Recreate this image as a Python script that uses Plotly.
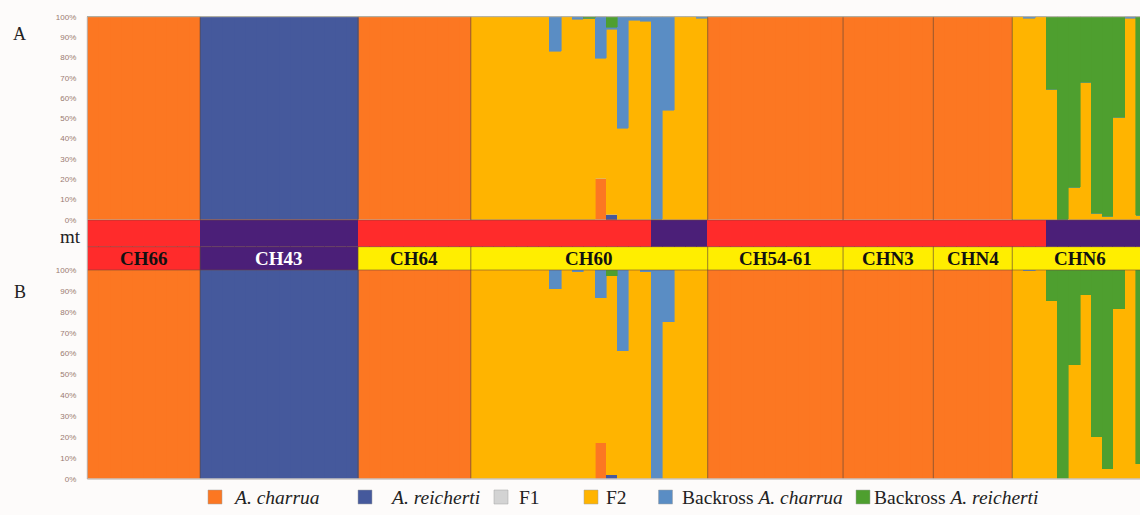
import plotly.graph_objects as go

FIG_W, FIG_H = 1140, 515

# ---------------------------------------------------------------- data
populations = ["CH66", "CH43", "CH64", "CH60", "CH54-61", "CHN3", "CHN4", "CHN6"]
pop_sizes = [10, 14, 10, 21, 12, 8, 7, 12]

# mitochondrial lineage of every individual (C = A. charrua, R = A. reicherti)
mt_lineage = list(
    "CCCCCCCCCC"              # CH66
    "RRRRRRRRRRRRRR"          # CH43
    "CCCCCCCCCC"              # CH64
    "CCCCCCCCCCCCCCCCRRRRR"   # CH60
    "CCCCCCCCCCCC"            # CH54-61
    "CCCCCCCC"                # CHN3
    "CCCCCCC"                 # CHN4
    "CCCRRRRRRRRR"            # CHN6
)

class_names = ["<i>A. charrua</i>", "<i>A. reicherti</i>", "F1", "F2",
               "Backross <i>A. charrua</i>", "Backross <i>A. reicherti</i>"]

pct_ticks = [0, 10, 20, 30, 40, 50, 60, 70, 80, 90, 100]
pct_labels = ["0%", "10%", "20%", "30%", "40%", "50%", "60%", "70%", "80%", "90%", "100%"]

# --- panel A: membership (%) per individual
a_charrua = [
    100, 100, 100, 100, 100, 100, 100, 100, 100, 100,
    0, 0, 0, 0, 0, 0, 0, 0, 0, 0, 0, 0, 0, 0,
    100, 100, 100, 100, 100, 100, 100, 100, 100, 100,
    0, 0, 0, 0, 0, 0, 0, 0, 0, 0, 0, 20.5, 0, 0, 0, 0, 0, 0, 0, 0, 0,
    100, 100, 100, 100, 100, 100, 100, 100, 100, 100, 100, 100,
    100, 100, 100, 100, 100, 100, 100, 100,
    100, 100, 100, 100, 100, 100, 100,
    0, 0, 0, 0, 0, 0, 0, 0, 0, 0, 0, 0,
]
a_reicherti = [
    0, 0, 0, 0, 0, 0, 0, 0, 0, 0,
    100, 100, 100, 100, 100, 100, 100, 100, 100, 100, 100, 100, 100, 100,
    0, 0, 0, 0, 0, 0, 0, 0, 0, 0,
    0, 0, 0, 0, 0, 0, 0, 0, 0, 0, 0, 0, 2.5, 0, 0, 0, 0, 0, 0, 0, 0,
    0, 0, 0, 0, 0, 0, 0, 0, 0, 0, 0, 0,
    0, 0, 0, 0, 0, 0, 0, 0,
    0, 0, 0, 0, 0, 0, 0,
    0, 0, 0, 0, 0, 0, 0, 0, 0, 0, 0, 0,
]
a_f1 = [
    0, 0, 0, 0, 0, 0, 0, 0, 0, 0,
    0, 0, 0, 0, 0, 0, 0, 0, 0, 0, 0, 0, 0, 0,
    0, 0, 0, 0, 0, 0, 0, 0, 0, 0,
    0, 0, 0, 0, 0, 0, 0, 0, 0, 0, 0, 0, 0, 0, 0, 0, 0, 0, 0, 0, 0,
    0, 0, 0, 0, 0, 0, 0, 0, 0, 0, 0, 0,
    0, 0, 0, 0, 0, 0, 0, 0,
    0, 0, 0, 0, 0, 0, 0,
    0, 0, 0, 0, 0, 0, 0, 0, 0, 0, 0, 0,
]
a_f2 = [
    0, 0, 0, 0, 0, 0, 0, 0, 0, 0,
    0, 0, 0, 0, 0, 0, 0, 0, 0, 0, 0, 0, 0, 0,
    0, 0, 0, 0, 0, 0, 0, 0, 0, 0,
    100, 100, 100, 100, 100, 100, 100, 82.8, 100, 98.4, 99.2,
    58.7, 91.0, 45.0, 98.0, 97.5, 0, 53.6, 100, 100, 99.2,
    0, 0, 0, 0, 0, 0, 0, 0, 0, 0, 0, 0,
    0, 0, 0, 0, 0, 0, 0, 0,
    0, 0, 0, 0, 0, 0, 0,
    100, 99, 100, 64, 0, 16, 67.5, 3.3, 1.5, 50.3, 99.2, 2,
]
a_bc_charrua = [
    0, 0, 0, 0, 0, 0, 0, 0, 0, 0,
    0, 0, 0, 0, 0, 0, 0, 0, 0, 0, 0, 0, 0, 0,
    0, 0, 0, 0, 0, 0, 0, 0, 0, 0,
    0, 0, 0, 0, 0, 0, 0, 17.2, 0, 1.6, 0,
    20.8, 1.0, 55.0, 2.0, 2.5, 100, 46.4, 0, 0, 0.8,
    0, 0, 0, 0, 0, 0, 0, 0, 0, 0, 0, 0,
    0, 0, 0, 0, 0, 0, 0, 0,
    0, 0, 0, 0, 0, 0, 0,
    0, 1, 0, 0, 0, 0, 0, 0, 0, 0, 0.8, 0,
]
a_bc_reicherti = [
    0, 0, 0, 0, 0, 0, 0, 0, 0, 0,
    0, 0, 0, 0, 0, 0, 0, 0, 0, 0, 0, 0, 0, 0,
    0, 0, 0, 0, 0, 0, 0, 0, 0, 0,
    0, 0, 0, 0, 0, 0, 0, 0, 0, 0, 0.8,
    0, 5.5, 0, 0, 0, 0, 0, 0, 0, 0,
    0, 0, 0, 0, 0, 0, 0, 0, 0, 0, 0, 0,
    0, 0, 0, 0, 0, 0, 0, 0,
    0, 0, 0, 0, 0, 0, 0,
    0, 0, 0, 36, 100, 84, 32.5, 96.7, 98.5, 49.7, 0, 98,
]

# --- panel B: membership (%) per individual
b_charrua = [
    100, 100, 100, 100, 100, 100, 100, 100, 100, 100,
    0, 0, 0, 0, 0, 0, 0, 0, 0, 0, 0, 0, 0, 0,
    100, 100, 100, 100, 100, 100, 100, 100, 100, 100,
    0, 0, 0, 0, 0, 0, 0, 0, 0, 0, 0, 17.4, 0, 0, 0, 0, 0, 0, 0, 0, 0,
    100, 100, 100, 100, 100, 100, 100, 100, 100, 100, 100, 100,
    100, 100, 100, 100, 100, 100, 100, 100,
    100, 100, 100, 100, 100, 100, 100,
    0, 0, 0, 0, 0, 0, 0, 0, 0, 0, 0, 0,
]
b_reicherti = [
    0, 0, 0, 0, 0, 0, 0, 0, 0, 0,
    100, 100, 100, 100, 100, 100, 100, 100, 100, 100, 100, 100, 100, 100,
    0, 0, 0, 0, 0, 0, 0, 0, 0, 0,
    0, 0, 0, 0, 0, 0, 0, 0, 0, 0, 0, 0, 2.0, 0, 0, 0, 0, 0, 0, 0, 0,
    0, 0, 0, 0, 0, 0, 0, 0, 0, 0, 0, 0,
    0, 0, 0, 0, 0, 0, 0, 0,
    0, 0, 0, 0, 0, 0, 0,
    0, 0, 0, 0, 0, 0, 0, 0, 0, 0, 0, 0,
]
b_f1 = [
    0, 0, 0, 0, 0, 0, 0, 0, 0, 0,
    0, 0, 0, 0, 0, 0, 0, 0, 0, 0, 0, 0, 0, 0,
    0, 0, 0, 0, 0, 0, 0, 0, 0, 0,
    0, 0, 0, 0, 0, 0, 0, 0, 0, 0, 0, 0, 0, 0, 0, 0, 0, 0, 0, 0, 0,
    0, 0, 0, 0, 0, 0, 0, 0, 0, 0, 0, 0,
    0, 0, 0, 0, 0, 0, 0, 0,
    0, 0, 0, 0, 0, 0, 0,
    0, 0, 0, 0, 0, 0, 0, 0, 0, 0, 0, 0,
]
b_f2 = [
    0, 0, 0, 0, 0, 0, 0, 0, 0, 0,
    0, 0, 0, 0, 0, 0, 0, 0, 0, 0, 0, 0, 0, 0,
    0, 0, 0, 0, 0, 0, 0, 0, 0, 0,
    100, 100, 100, 100, 100, 100, 100, 90.9, 100, 99.0, 100,
    69.0, 95.3, 61.4, 100, 99.0, 0, 75.3, 100, 100, 100,
    0, 0, 0, 0, 0, 0, 0, 0, 0, 0, 0, 0,
    0, 0, 0, 0, 0, 0, 0, 0,
    0, 0, 0, 0, 0, 0, 0,
    100, 99.5, 100, 85.3, 0, 54.4, 87.9, 20.1, 5.0, 81.2, 100, 7.3,
]
b_bc_charrua = [
    0, 0, 0, 0, 0, 0, 0, 0, 0, 0,
    0, 0, 0, 0, 0, 0, 0, 0, 0, 0, 0, 0, 0, 0,
    0, 0, 0, 0, 0, 0, 0, 0, 0, 0,
    0, 0, 0, 0, 0, 0, 0, 9.1, 0, 1.0, 0,
    13.6, 0, 38.6, 0, 1.0, 100, 24.7, 0, 0, 0,
    0, 0, 0, 0, 0, 0, 0, 0, 0, 0, 0, 0,
    0, 0, 0, 0, 0, 0, 0, 0,
    0, 0, 0, 0, 0, 0, 0,
    0, 0.5, 0, 0, 0, 0, 0, 0, 0, 0, 0, 0,
]
b_bc_reicherti = [
    0, 0, 0, 0, 0, 0, 0, 0, 0, 0,
    0, 0, 0, 0, 0, 0, 0, 0, 0, 0, 0, 0, 0, 0,
    0, 0, 0, 0, 0, 0, 0, 0, 0, 0,
    0, 0, 0, 0, 0, 0, 0, 0, 0, 0, 0,
    0, 2.7, 0, 0, 0, 0, 0, 0, 0, 0,
    0, 0, 0, 0, 0, 0, 0, 0, 0, 0, 0, 0,
    0, 0, 0, 0, 0, 0, 0, 0,
    0, 0, 0, 0, 0, 0, 0,
    0, 0, 0, 14.7, 100, 45.6, 12.1, 79.9, 95.0, 18.8, 0, 92.7,
]

# ---------------------------------------------------------------- styling
class_colors = ["#FC7722", "#45599C", "#D3D3D3", "#FFB400", "#5A8DC4", "#4E9F2F"]
mt_colors = {"C": "#FF2B2B", "R": "#4B1F78"}
pop_fill = ["#FF2B2B", "#4B1F78", "#FFEE00", "#FFEE00",
            "#FFEE00", "#FFEE00", "#FFEE00", "#FFEE00"]
pop_text = ["#111111", "#FFFFFF", "#111111", "#111111",
            "#111111", "#111111", "#111111", "#111111"]
SERIF = "Liberation Serif, Times New Roman, serif"
TICK_COLOR = "#9A7A70"
FRAME = "#B8B0AA"
SEP = "rgba(95,70,55,0.65)"

# vertical layout (pixels from the top of the figure)
A_TOP, A_BOT = 16.7, 220.0
MT_BOT = 246.7
B_TOP, B_BOT = 270.0, 479.0
PLOT_LEFT = 87.3
BAR_PX = 11.28


def fx(px):
    return px / FIG_W


def fy(py):
    return 1 - py / FIG_H


n_ind = len(mt_lineage)
idx = list(range(n_ind))
x_end = -0.5 + (FIG_W - PLOT_LEFT) / BAR_PX

fig = go.Figure()

panel_a = [a_charrua, a_reicherti, a_f1, a_f2, a_bc_charrua, a_bc_reicherti]
panel_b = [b_charrua, b_reicherti, b_f1, b_f2, b_bc_charrua, b_bc_reicherti]

for axis, series in (("y4", panel_a), ("y", panel_b)):
    for name, vals, col in zip(class_names, series, class_colors):
        fig.add_trace(go.Bar(
            x=idx, y=vals, name=name, yaxis=axis, width=1,
            marker=dict(color=col, line=dict(width=0.6, color=col)),
            showlegend=False, hoverinfo="skip",
        ))

# mitochondrial lineage strip
mt_fill = [mt_colors[m] for m in mt_lineage]
fig.add_trace(go.Bar(
    x=idx, y=[1] * n_ind, yaxis="y3", width=1,
    marker=dict(color=mt_fill, line=dict(width=0.6, color=mt_fill)),
    showlegend=False, hoverinfo="skip",
))

# population strip
starts = []
s = 0
for n in pop_sizes:
    starts.append(s)
    s += n
centers = [st + n / 2 - 0.5 for st, n in zip(starts, pop_sizes)]
fig.add_trace(go.Bar(
    x=centers, y=[1] * len(populations), width=pop_sizes, yaxis="y2",
    marker=dict(color=pop_fill, line=dict(width=0)),
    showlegend=False, hoverinfo="skip",
))

annotations = []
for name, c, tc in zip(populations, centers, pop_text):
    annotations.append(dict(
        x=c, y=0.5, xref="x", yref="y2", text=f"<b>{name}</b>", showarrow=False,
        font=dict(family=SERIF, size=19, color=tc), xanchor="center", yanchor="middle",
    ))

annotations += [
    dict(x=fx(19.5), y=fy(33.5), xref="paper", yref="paper", text="A", showarrow=False,
         xanchor="center", yanchor="middle",
         font=dict(family=SERIF, size=18, color="#222222")),
    dict(x=fx(19.5), y=fy(291.5), xref="paper", yref="paper", text="B", showarrow=False,
         xanchor="center", yanchor="middle",
         font=dict(family=SERIF, size=18, color="#222222")),
    dict(x=fx(83), y=fy(236.5), xref="paper", yref="paper", text="mt", showarrow=False,
         xanchor="right", yanchor="middle",
         font=dict(family=SERIF, size=19, color="#222222")),
]

shapes = []
# population separators
for st in starts[1:]:
    xb = st - 0.5
    for y0, y1 in ((A_BOT, A_TOP), (B_BOT, MT_BOT)):
        shapes.append(dict(type="line", xref="x", yref="paper", x0=xb, x1=xb,
                           y0=fy(y0), y1=fy(y1), line=dict(color=SEP, width=1)))
# horizontal strip borders
for yy in (A_BOT, MT_BOT, B_TOP):
    shapes.append(dict(type="line", xref="paper", yref="paper", x0=fx(PLOT_LEFT), x1=1,
                       y0=fy(yy), y1=fy(yy), line=dict(color="rgba(110,70,60,0.55)", width=1)))
# frame
shapes += [
    dict(type="line", xref="paper", yref="paper", x0=fx(PLOT_LEFT), x1=1,
         y0=fy(A_TOP), y1=fy(A_TOP), line=dict(color=FRAME, width=1)),
    dict(type="line", xref="paper", yref="paper", x0=fx(PLOT_LEFT), x1=1,
         y0=fy(B_BOT), y1=fy(B_BOT), line=dict(color="#C8C4C2", width=1.5)),
    dict(type="line", xref="paper", yref="paper", x0=fx(PLOT_LEFT), x1=fx(PLOT_LEFT),
         y0=fy(B_BOT), y1=fy(A_TOP), line=dict(color=FRAME, width=1)),
]

# legend drawn as swatches and labels
legend_swatch_x = [215, 365, 501, 591, 665.5, 863]
legend_text_x = [231, 388, 517, 604, 680, 872]
LEG_Y = 497
SW = 14
for name, col, sx, tx in zip(class_names, class_colors, legend_swatch_x, legend_text_x):
    shapes.append(dict(type="rect", xref="paper", yref="paper",
                       x0=fx(sx - SW / 2), x1=fx(sx + SW / 2),
                       y0=fy(LEG_Y + SW / 2), y1=fy(LEG_Y - SW / 2),
                       fillcolor=col, line=dict(color="#A0A0A0", width=0.5)))
    annotations.append(dict(x=fx(tx), y=fy(LEG_Y), xref="paper", yref="paper", text=name,
                            showarrow=False, xanchor="left", yanchor="middle",
                            font=dict(family=SERIF, size=19.5, color="#222222")))

pct_axis = dict(range=[0, 100], tickmode="array", tickvals=pct_ticks, ticktext=pct_labels,
                showgrid=False, zeroline=False, ticks="", showline=False,
                tickfont=dict(family="Liberation Sans, Arial, sans-serif", size=8, color=TICK_COLOR),
                ticklabelstandoff=10, automargin=False, anchor="x", fixedrange=True)

fig.update_layout(
    width=FIG_W, height=FIG_H, autosize=False,
    margin=dict(l=0, r=0, t=0, b=0, pad=0),
    paper_bgcolor="#FDFBFA", plot_bgcolor="#FDFBFA",
    barmode="stack", bargap=0, bargroupgap=0,
    xaxis=dict(domain=[fx(PLOT_LEFT), 1], range=[-0.5, x_end], showticklabels=False,
               showgrid=False, zeroline=False, ticks="", showline=False, anchor="y",
               automargin=False, fixedrange=True),
    yaxis=dict(domain=[fy(B_BOT), fy(B_TOP)], **pct_axis),
    yaxis2=dict(domain=[fy(B_TOP), fy(MT_BOT)], range=[0, 1], visible=False, anchor="x"),
    yaxis3=dict(domain=[fy(MT_BOT), fy(A_BOT)], range=[0, 1], visible=False, anchor="x"),
    yaxis4=dict(domain=[fy(A_BOT), fy(A_TOP)], **pct_axis),
    shapes=shapes,
    annotations=annotations,
    showlegend=False,
)

fig.write_html("out.html")
